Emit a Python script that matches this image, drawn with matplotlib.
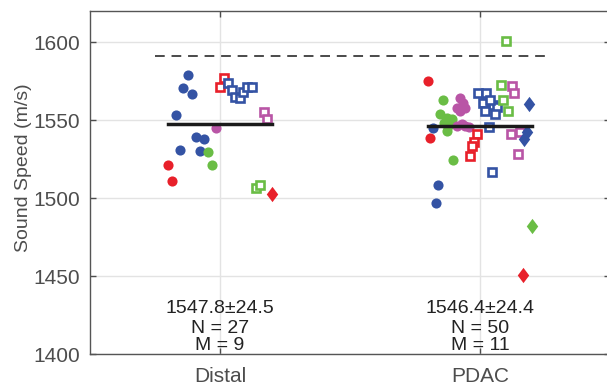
import numpy as np
import matplotlib.pyplot as plt
from matplotlib.path import Path

plt.rcParams['font.family'] = ['Liberation Sans', 'DejaVu Sans']

groups = ['Distal', 'PDAC']
means = [1547.8, 1546.4]
sds = [24.5, 24.4]
n_samples = [27, 50]
n_subjects = [9, 11]
reference_speed = 1591

red = '#E8202A'
blue = '#3453A4'
green = '#6ABD45'
magenta = '#B955A6'

# Distal: (offset from group centre, sound speed) per subject
distal_blue_circ_dx = [-0.124, -0.141, -0.109, -0.169, -0.093, -0.062, -0.155, -0.078]
distal_blue_circ = [1578.8, 1570.9, 1567.0, 1553.5, 1539.4, 1537.6, 1530.7, 1530.1]
distal_mag_circ_dx = [-0.015]
distal_mag_circ = [1544.9]
distal_green_circ_dx = [-0.047, -0.031]
distal_green_circ = [1529.3, 1521.1]
distal_red_circ_dx = [-0.200, -0.185]
distal_red_circ = [1521.1, 1510.8]
distal_red_sq_dx = [0.015, -0.001]
distal_red_sq = [1576.8, 1571.5]
distal_blue_sq_dx = [0.030, 0.046, 0.059, 0.077, 0.090, 0.104, 0.122]
distal_blue_sq = [1574.1, 1569.6, 1565.1, 1564.4, 1568.3, 1571.3, 1571.5]
distal_mag_sq_dx = [0.168, 0.182]
distal_mag_sq = [1555.4, 1550.5]
distal_green_sq_dx = [0.138, 0.154]
distal_green_sq = [1506.3, 1508.5]
distal_red_dia_dx = [0.199]
distal_red_dia = [1502.7]

# PDAC
pdac_red_circ_dx = [-0.201, -0.192]
pdac_red_circ = [1575.1, 1538.3]
pdac_blue_circ_dx = [-0.181, -0.160, -0.169]
pdac_blue_circ = [1545.1, 1508.7, 1496.9]
pdac_green_circ_dx = [-0.144, -0.152, -0.128, -0.109, -0.128, -0.103, -0.138, -0.119]
pdac_green_circ = [1563.0, 1553.7, 1551.6, 1550.5, 1542.8, 1524.3, 1547.9, 1546.6]
pdac_mag_circ_dx = [-0.077, -0.067, -0.087, -0.058, -0.087, -0.070, -0.058, -0.041, -0.077]
pdac_mag_circ = [1564.4, 1561.2, 1558.0, 1558.0, 1546.2, 1547.7, 1546.2, 1545.5, 1555.6]
pdac_blue_sq_dx = [-0.007, 0.023, 0.010, 0.051, 0.067, 0.019, 0.058, 0.038, 0.036, 0.045]
pdac_blue_sq = [1567.2, 1567.7, 1561.2, 1559.5, 1558.7, 1555.8, 1553.7, 1562.7, 1545.5, 1517.0]
pdac_green_sq_dx = [0.100, 0.080, 0.090, 0.109]
pdac_green_sq = [1600.8, 1572.3, 1562.9, 1555.8]
pdac_mag_sq_dx = [0.122, 0.131, 0.118, 0.154, 0.147]
pdac_mag_sq = [1571.9, 1567.2, 1540.8, 1542.6, 1528.4]
pdac_red_sq_dx = [-0.013, -0.022, -0.030, -0.038]
pdac_red_sq = [1541.4, 1535.9, 1533.3, 1527.3]
pdac_blue_dia_dx = [0.190, 0.180, 0.170]
pdac_blue_dia = [1560.6, 1542.3, 1537.6]
pdac_green_dia_dx = [0.199]
pdac_green_dia = [1482.3]
pdac_red_dia_dx = [0.167]
pdac_red_dia = [1450.8]

series = [
    (1, distal_blue_circ_dx, distal_blue_circ, 'o', blue),
    (1, distal_mag_circ_dx, distal_mag_circ, 'o', magenta),
    (1, distal_green_circ_dx, distal_green_circ, 'o', green),
    (1, distal_red_circ_dx, distal_red_circ, 'o', red),
    (1, distal_red_sq_dx, distal_red_sq, 's', red),
    (1, distal_blue_sq_dx, distal_blue_sq, 's', blue),
    (1, distal_mag_sq_dx, distal_mag_sq, 's', magenta),
    (1, distal_green_sq_dx, distal_green_sq, 's', green),
    (1, distal_red_dia_dx, distal_red_dia, 'D', red),
    (2, pdac_red_circ_dx, pdac_red_circ, 'o', red),
    (2, pdac_blue_circ_dx, pdac_blue_circ, 'o', blue),
    (2, pdac_green_circ_dx, pdac_green_circ, 'o', green),
    (2, pdac_mag_circ_dx, pdac_mag_circ, 'o', magenta),
    (2, pdac_blue_sq_dx, pdac_blue_sq, 's', blue),
    (2, pdac_green_sq_dx, pdac_green_sq, 's', green),
    (2, pdac_mag_sq_dx, pdac_mag_sq, 's', magenta),
    (2, pdac_red_sq_dx, pdac_red_sq, 's', red),
    (2, pdac_blue_dia_dx, pdac_blue_dia, 'D', blue),
    (2, pdac_green_dia_dx, pdac_green_dia, 'D', green),
    (2, pdac_red_dia_dx, pdac_red_dia, 'D', red),
]

# diamond a bit wider than matplotlib's 'd'
diamond = Path([(0, 1), (0.75, 0), (0, -1), (-0.75, 0), (0, 1)],
               [Path.MOVETO, Path.LINETO, Path.LINETO, Path.LINETO, Path.CLOSEPOLY])

fig = plt.figure(figsize=(6.07, 3.87), dpi=100)
ax = fig.add_axes([90 / 607, 33 / 387, 520 / 607, 343 / 387])

ax.grid(True, color='#e3e3e3', linewidth=1)
ax.set_axisbelow(True)

ax.plot([0.75, 2.25], [reference_speed] * 2, color='#4a4a4a', linewidth=1.4,
        linestyle=(0, (5, 3.5)), zorder=2)

for pos, dx, vals, marker, color in series:
    x = pos + np.array(dx)
    if marker == 'o':
        ax.plot(x, vals, 'o', color=color, markersize=7.3, markeredgewidth=0, zorder=3)
    elif marker == 's':
        ax.plot(x, vals, 's', markerfacecolor='white', markeredgecolor=color,
                markersize=5.2, markeredgewidth=1.9, zorder=3)
    else:
        ax.plot(x, vals, marker=diamond, linestyle='none', color=color,
                markersize=11, markeredgewidth=0, zorder=3)

for i, m in enumerate(means):
    ax.plot([i + 1 - 0.2, i + 1 + 0.2], [m, m], color='#1a1a1a', linewidth=2.5, zorder=4)
    ax.text(i + 1, 1426.2, f'{m:.1f}\u00b1{sds[i]:.1f}', ha='center', va='baseline',
            fontsize=14, color='#222222')
    ax.text(i + 1, 1413.7, f'N = {n_samples[i]}', ha='center', va='baseline',
            fontsize=14, color='#222222')
    ax.text(i + 1, 1402.6, f'M = {n_subjects[i]}', ha='center', va='baseline',
            fontsize=14, color='#222222')

ax.set_xlim(0.5, 2.5)
ax.set_ylim(1400, 1620)
ax.set_xticks([1, 2])
ax.set_xticklabels(groups)
ax.set_yticks([1400, 1450, 1500, 1550, 1600])
ax.set_ylabel('Sound Speed (m/s)', fontsize=14, color='#4d4d4d')
ax.yaxis.set_label_coords(-0.112, 0.542)

ax.tick_params(direction='in', length=4, width=1, colors='#4d4d4d',
               labelsize=15, top=True, right=True, pad=7)
ax.tick_params(axis='x', pad=9)
for s in ax.spines.values():
    s.set_color('#555555')
    s.set_linewidth(1)

fig.savefig('out.png', dpi=100)
